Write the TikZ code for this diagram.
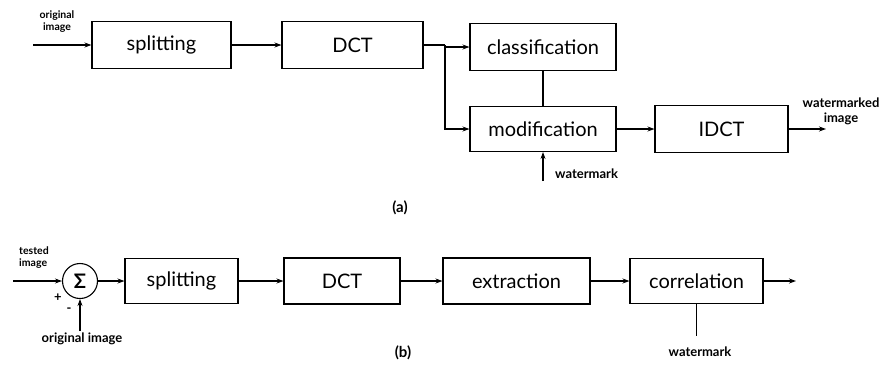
\documentclass[tikz,border=0pt]{standalone}
\usepackage{fontspec}
\setmainfont{Lato}
\usetikzlibrary{arrows.meta}
\begin{document}
\begin{tikzpicture}[x=1pt,y=-1pt,
  box/.style={draw,line width=1.1pt,inner sep=0pt,font=\fontsize{20}{22}\selectfont},
  conn/.style={line width=1.1pt},
  arr/.style={line width=1.1pt,-{Stealth[length=7pt,width=5pt]}},
  lab/.style={font=\bfseries\fontsize{13}{15}\selectfont,align=left,inner sep=0pt},
  slab/.style={font=\bfseries\fontsize{10.5}{12}\selectfont,align=left,inner sep=0pt},
  figcap/.style={font=\bfseries\fontsize{15}{17}\selectfont,inner sep=0pt}]
\useasboundingbox (0,0) rectangle (890,370);
% (a)
\node[box,minimum width=139pt,minimum height=47pt] (split) at (161.5,45) {splitting};
\node[box,minimum width=141pt,minimum height=47pt] (dct1) at (352.5,45) {DCT};
\node[box,minimum width=146pt,minimum height=47pt] (cls) at (543,47) {classification};
\node[box,minimum width=146pt,minimum height=45pt] (mod) at (543,129) {modification};
\node[box,minimum width=133pt,minimum height=47pt] (idct) at (721.5,129) {IDCT};
\coordinate (in1) at (33,45);
\coordinate (j) at (445,45);
\coordinate (out1) at (826,129);
\draw[arr] (in1) -- (split.west);
\node[slab,align=center] (lorig1) at (57,22) {original\\image};
\draw[arr] (split.east) -- (dct1.west);
\draw[conn] (dct1.east) -- (j);
\draw[arr] (j) |- (cls.west);
\draw[arr] (j) |- (mod.west);
\draw[conn] (cls.south) -- (mod.north);
\draw[arr] (mod.south) ++(0,29) coordinate (wm1) -- (mod.south);
\node[lab,anchor=west] (lwm1) at (555,174) {watermark};
\draw[arr] (mod.east) -- (idct.west);
\draw[arr] (idct.east) -- (out1);
\node[lab,align=center] (lwmi) at (841,111) {watermarked\\image};
\node[figcap] (capa) at (400,208) {(a)};
% (b)
\node[draw,circle,line width=1.1pt,minimum size=35pt,inner sep=0pt,font=\bfseries\fontsize{20}{22}\selectfont] (sig) at (80,281) {Σ};
\node[box,minimum width=113pt,minimum height=45pt] (split2) at (181.5,281) {splitting};
\node[box,minimum width=116pt,minimum height=46pt] (dct2) at (342,281) {DCT};
\node[box,minimum width=147pt,minimum height=46pt] (ext) at (516.5,281) {extraction};
\node[box,minimum width=133pt,minimum height=45pt] (cor) at (696.5,281) {correlation};
\coordinate (in2) at (13,281);
\coordinate (orig2) at (80,331);
\coordinate (out2) at (796,281);
\draw[arr] (in2) -- (sig.west);
\node[slab] (ltest) at (34,258) {tested\\image};
\node[lab] (lplus) at (58,298) {+};
\node[lab] (lminus) at (69,310) {-};
\draw[arr] (orig2) -- (sig.south);
\node[lab] (lorig2) at (82,339) {original image};
\draw[arr] (sig.east) -- (split2.west);
\draw[arr] (split2.east) -- (dct2.west);
\draw[arr] (dct2.east) -- (ext.west);
\draw[arr] (ext.east) -- (cor.west);
\draw[arr] (cor.east) -- (out2);
\draw[conn] (cor.south) -- ++(0,32) coordinate (wm2);
\node[lab] (lwm2) at (700,352) {watermark};
\node[figcap] (capb) at (403,353) {(b)};
\end{tikzpicture}
\end{document}
